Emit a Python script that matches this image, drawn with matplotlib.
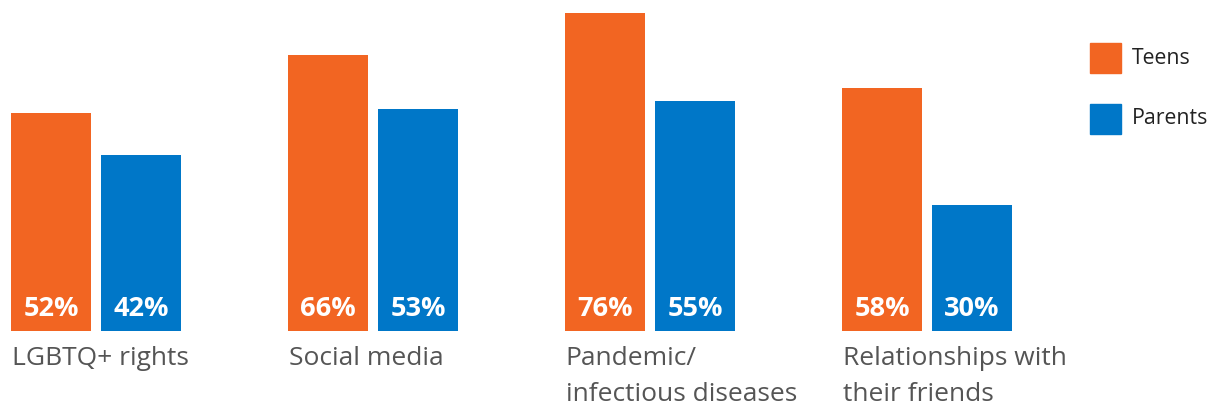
import matplotlib.pyplot as plt
from matplotlib.patches import Rectangle

categories = ["LGBTQ+ rights", "Social media", "Pandemic/\ninfectious diseases",
              "Relationships with\ntheir friends"]
teens = [52, 66, 76, 58]
parents = [42, 53, 55, 30]
series_names = ["Teens", "Parents"]

orange = "#F26522"
blue = "#0077C8"

plt.rcParams['font.family'] = ['Open Sans', 'DejaVu Sans']

W, H = 1211, 407
fig = plt.figure(figsize=(W / 100, H / 100), dpi=100)

# one x unit = one group (277 px), y from 0% at px 331 to 76% at px 13
ax = fig.add_axes([11 / W, (H - 331) / H, 4 * 277 / W, 318 / H])
ax.set_xlim(0, 4)
ax.set_ylim(0, max(teens))
ax.axis("off")

bw = 80 / 277
off = 90 / 277
xs = list(range(len(categories)))

ax.bar([x for x in xs], teens, width=bw, align="edge", color=orange)
ax.bar([x + off for x in xs], parents, width=bw, align="edge", color=blue)

for x, t, p, cat in zip(xs, teens, parents, categories):
    for xx, v in ((x, t), (x + off, p)):
        ax.annotate(f"{v}%", (xx + bw / 2, 0), xytext=(0, 6.5), textcoords="offset points",
                    ha="center", va="bottom", color="white", fontsize=19.5,
                    fontweight="bold")
    ax.annotate(cat, (x, 0), xytext=(0.5, -10.5), textcoords="offset points",
                ha="left", va="top", color="#555555", fontsize=19,
                linespacing=1.62, annotation_clip=False)

# legend
for i, (name, c) in enumerate(zip(series_names, [orange, blue])):
    y0 = H - 73 - i * 61
    fig.patches.append(Rectangle((1090 / W, y0 / H), 31 / W, 30 / H, color=c,
                                 transform=fig.transFigure))
    fig.text(1132 / W, (y0 + 15) / H, name, ha="left", va="center",
             fontsize=15.3, color="#222222")

fig.savefig("out.png", dpi=100)
